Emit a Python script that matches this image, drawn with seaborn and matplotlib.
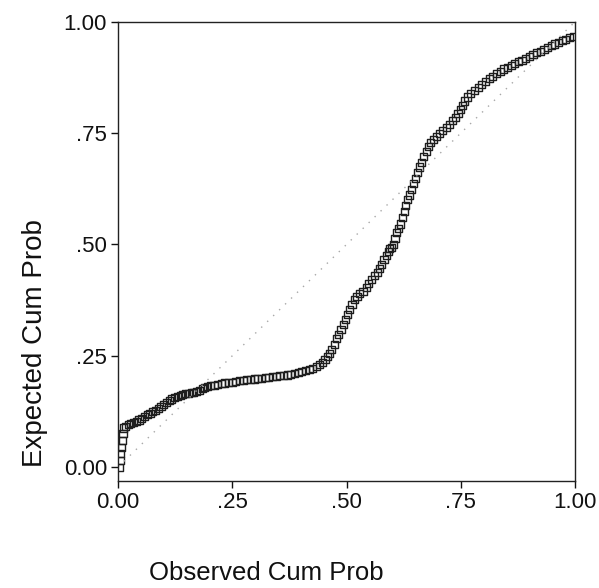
import matplotlib
matplotlib.use("Agg")
import matplotlib.pyplot as plt
import seaborn as sns
import pandas as pd

sns.set_style("ticks")
plt.rcParams['font.family'] = ['Liberation Sans', 'DejaVu Sans']

observed = [
    0.004, 0.005, 0.006, 0.008, 0.009, 0.011, 0.013,
    0.016, 0.022, 0.028, 0.034, 0.040, 0.046, 0.052, 0.058, 0.064, 0.070,
    0.076, 0.082, 0.088, 0.094, 0.100, 0.106, 0.112, 0.118, 0.124, 0.130,
    0.136, 0.142, 0.148, 0.154, 0.160, 0.166, 0.172, 0.178, 0.184, 0.190, 0.196,
    0.203, 0.210, 0.218, 0.226, 0.234, 0.242, 0.250, 0.258, 0.266, 0.274,
    0.282, 0.290, 0.298, 0.306, 0.314, 0.322, 0.330, 0.338, 0.346, 0.354,
    0.362, 0.370, 0.378, 0.386, 0.394, 0.402, 0.410, 0.418, 0.426, 0.434,
    0.441, 0.447, 0.453, 0.458, 0.463, 0.468, 0.473, 0.478,
    0.483, 0.488, 0.493, 0.497, 0.502, 0.507, 0.512, 0.518, 0.523, 0.529,
    0.536, 0.543, 0.549, 0.555, 0.561, 0.567, 0.572, 0.577, 0.582, 0.587,
    0.591, 0.595, 0.598, 0.602, 0.606, 0.610, 0.614, 0.618, 0.622, 0.626,
    0.630, 0.634, 0.638, 0.643, 0.647, 0.651, 0.655, 0.659, 0.664, 0.669,
    0.674, 0.679, 0.684, 0.690, 0.697, 0.704, 0.711, 0.718, 0.725, 0.732,
    0.738, 0.744, 0.749, 0.754, 0.759, 0.764,
    0.772, 0.780, 0.788, 0.796, 0.804, 0.812, 0.820, 0.828, 0.836, 0.844,
    0.852, 0.860, 0.868, 0.876, 0.884, 0.892, 0.900, 0.908, 0.916, 0.924,
    0.932, 0.940, 0.948, 0.956, 0.964, 0.972, 0.980, 0.988, 0.996,
]
expected = [
    0.000, 0.015, 0.030, 0.045, 0.060, 0.075, 0.088,
    0.092, 0.095, 0.098, 0.100, 0.102, 0.106, 0.110, 0.114, 0.118, 0.121,
    0.125, 0.128, 0.131, 0.136, 0.141, 0.146, 0.150, 0.153, 0.156, 0.159,
    0.161, 0.163, 0.165, 0.166, 0.167, 0.168, 0.170, 0.173, 0.176, 0.179, 0.181,
    0.183, 0.184, 0.186, 0.188, 0.189, 0.190, 0.191, 0.193, 0.194, 0.195,
    0.196, 0.197, 0.198, 0.199, 0.200, 0.201, 0.202, 0.203, 0.204, 0.205,
    0.206, 0.207, 0.209, 0.211, 0.213, 0.215, 0.217, 0.219, 0.222, 0.226,
    0.230, 0.235, 0.241, 0.248, 0.256, 0.265, 0.276, 0.288,
    0.298, 0.309, 0.320, 0.331, 0.343, 0.355, 0.366, 0.376, 0.383, 0.389,
    0.395, 0.404, 0.412, 0.421, 0.430, 0.438, 0.447, 0.456, 0.466, 0.476,
    0.484, 0.490, 0.494, 0.500, 0.513, 0.526, 0.536, 0.546, 0.560, 0.574,
    0.588, 0.600, 0.611, 0.623, 0.636, 0.648, 0.662, 0.674, 0.685, 0.697,
    0.708, 0.719, 0.728, 0.735, 0.742, 0.749, 0.756, 0.763, 0.770, 0.778,
    0.786, 0.795, 0.804, 0.813, 0.822, 0.831,
    0.839, 0.846, 0.853, 0.860, 0.866, 0.872, 0.878, 0.884, 0.889, 0.894,
    0.898, 0.902, 0.906, 0.910, 0.914, 0.918, 0.922, 0.926, 0.930, 0.934,
    0.938, 0.942, 0.946, 0.950, 0.954, 0.958, 0.961, 0.964, 0.967,
]
diag_x = [0.0, 1.0]
diag_y = [0.0, 1.0]
tick_values = [0.0, 0.25, 0.5, 0.75, 1.0]
tick_labels = ["0.00", ".25", ".50", ".75", "1.00"]

df = pd.DataFrame({"Observed Cum Prob": observed, "Expected Cum Prob": expected})

fig = plt.figure(figsize=(5.99, 5.88), dpi=100)
ax = fig.add_axes([0.197, 0.182, 0.763, 0.781])

sns.lineplot(x=diag_x, y=diag_y, ax=ax, color="#a8a8a8", linewidth=1.0,
             linestyle=(0, (1, 5)))
sns.scatterplot(data=df, x="Observed Cum Prob", y="Expected Cum Prob", ax=ax,
                marker="s", s=26, facecolor="none", edgecolor="#1e1e1e",
                linewidth=1.0)

ax.set_xlim(0.0, 1.0)
ax.set_ylim(-0.031, 1.0)
ax.set_xticks(tick_values)
ax.set_xticklabels(tick_labels)
ax.set_yticks(tick_values)
ax.set_yticklabels(tick_labels)
ax.tick_params(axis="both", direction="out", length=5, width=1,
               labelsize=16, colors="#111111", pad=3)

for sp in ax.spines.values():
    sp.set_visible(True)
    sp.set_color("#222222")
    sp.set_linewidth(1.0)

ax.set_xlabel("Observed Cum Prob", fontsize=18.5, color="#111111")
ax.set_ylabel("Expected Cum Prob", fontsize=20, color="#111111")
ax.xaxis.label.set_va("center")
ax.yaxis.label.set_va("center")
ax.xaxis.set_label_coords((266 - 118) / 457, (481 - 573) / 459)
ax.yaxis.set_label_coords((35 - 118) / 457, (481 - 343) / 459)

fig.savefig("out.png", dpi=100, facecolor="white")
